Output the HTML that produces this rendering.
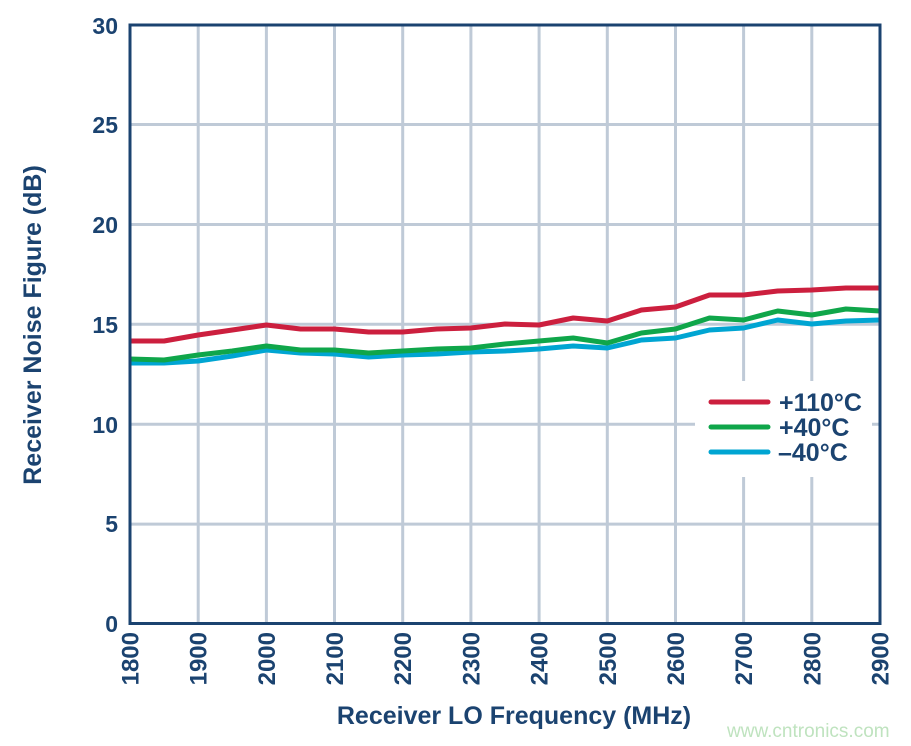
<!DOCTYPE html>
<html><head><meta charset="utf-8"><style>
html,body{margin:0;padding:0;background:#fff;}
svg{display:block;}
text{font-family:"Liberation Sans",Arial,sans-serif;font-weight:bold;fill:#1b4370;}
</style></head><body>
<svg width="911" height="746" viewBox="0 0 911 746" xmlns="http://www.w3.org/2000/svg">
<g stroke="#bfcad7" stroke-width="3">
<line x1="198.2" y1="25" x2="198.2" y2="623"/>
<line x1="266.4" y1="25" x2="266.4" y2="623"/>
<line x1="334.5" y1="25" x2="334.5" y2="623"/>
<line x1="402.7" y1="25" x2="402.7" y2="623"/>
<line x1="470.9" y1="25" x2="470.9" y2="623"/>
<line x1="539.1" y1="25" x2="539.1" y2="623"/>
<line x1="607.3" y1="25" x2="607.3" y2="623"/>
<line x1="675.5" y1="25" x2="675.5" y2="623"/>
<line x1="743.6" y1="25" x2="743.6" y2="623"/>
<line x1="811.8" y1="25" x2="811.8" y2="623"/>
<line x1="130" y1="124.5" x2="880" y2="124.5"/>
<line x1="130" y1="224.5" x2="880" y2="224.5"/>
<line x1="130" y1="324.3" x2="880" y2="324.3"/>
<line x1="130" y1="424.2" x2="880" y2="424.2"/>
<line x1="130" y1="524.1" x2="880" y2="524.1"/>
</g>
<rect x="695" y="381" width="177" height="96" fill="#fff"/>
<g fill="none" stroke-width="5" stroke-linejoin="round">
<polyline stroke="#00a5d2" points="130,363 164.1,363 198.2,361 232.3,356 266.4,350 300.5,353 334.5,354 368.6,357 402.7,355 436.8,354 470.9,352 505,351 539.1,349 573.2,346 607.3,348 641.4,340 675.5,338 709.5,330 743.6,328 777.7,320 811.8,324 845.9,321 880,320"/>
<polyline stroke="#0fa64a" points="130,359 164.1,360 198.2,355 232.3,351 266.4,346 300.5,350 334.5,350 368.6,353 402.7,351 436.8,349 470.9,348 505,344 539.1,341 573.2,338 607.3,343 641.4,333 675.5,329 709.5,318 743.6,320 777.7,311 811.8,315 845.9,309 880,311"/>
<polyline stroke="#cc1f3e" points="130,341 164.1,341 198.2,335 232.3,330 266.4,325 300.5,329 334.5,329 368.6,332 402.7,332 436.8,329 470.9,328 505,324 539.1,325 573.2,318 607.3,321 641.4,310 675.5,307 709.5,295 743.6,295 777.7,291 811.8,290 845.9,288 880,288"/>
</g>
<rect x="130" y="25" width="750" height="598.5" fill="none" stroke="#1b4370" stroke-width="3"/>
<g stroke-width="5" stroke-linecap="round">
<line x1="711" y1="402" x2="768" y2="402" stroke="#cc1f3e"/>
<line x1="711" y1="427" x2="768" y2="427" stroke="#0fa64a"/>
<line x1="711" y1="452" x2="768" y2="452" stroke="#00a5d2"/>
</g>
<g font-size="25">
<text x="779" y="411">+110°C</text>
<text x="779" y="436">+40°C</text>
<text x="778" y="461">–40°C</text>
</g>
<g font-size="23" text-anchor="end">
<text x="118" y="34">30</text>
<text x="118" y="133">25</text>
<text x="118" y="233">20</text>
<text x="118" y="333">15</text>
<text x="118" y="433">10</text>
<text x="118" y="532">5</text>
<text x="118" y="632">0</text>
</g>
<g font-size="24" text-anchor="end">
<text transform="translate(138.5,632) rotate(-90)">1800</text>
<text transform="translate(206.7,632) rotate(-90)">1900</text>
<text transform="translate(274.9,632) rotate(-90)">2000</text>
<text transform="translate(343,632) rotate(-90)">2100</text>
<text transform="translate(411.2,632) rotate(-90)">2200</text>
<text transform="translate(479.4,632) rotate(-90)">2300</text>
<text transform="translate(547.6,632) rotate(-90)">2400</text>
<text transform="translate(615.8,632) rotate(-90)">2500</text>
<text transform="translate(684,632) rotate(-90)">2600</text>
<text transform="translate(752.1,632) rotate(-90)">2700</text>
<text transform="translate(820.3,632) rotate(-90)">2800</text>
<text transform="translate(888.5,632) rotate(-90)">2900</text>
</g>
<text x="514" y="724" font-size="25" text-anchor="middle">Receiver LO Frequency (MHz)</text>
<text transform="translate(41,325) rotate(-90)" font-size="25" text-anchor="middle">Receiver Noise Figure (dB)</text>
<text x="727" y="737" font-size="19" style="font-weight:normal;fill:#bfe3bf">www.cntronics.com</text>
</svg>
</body></html>
